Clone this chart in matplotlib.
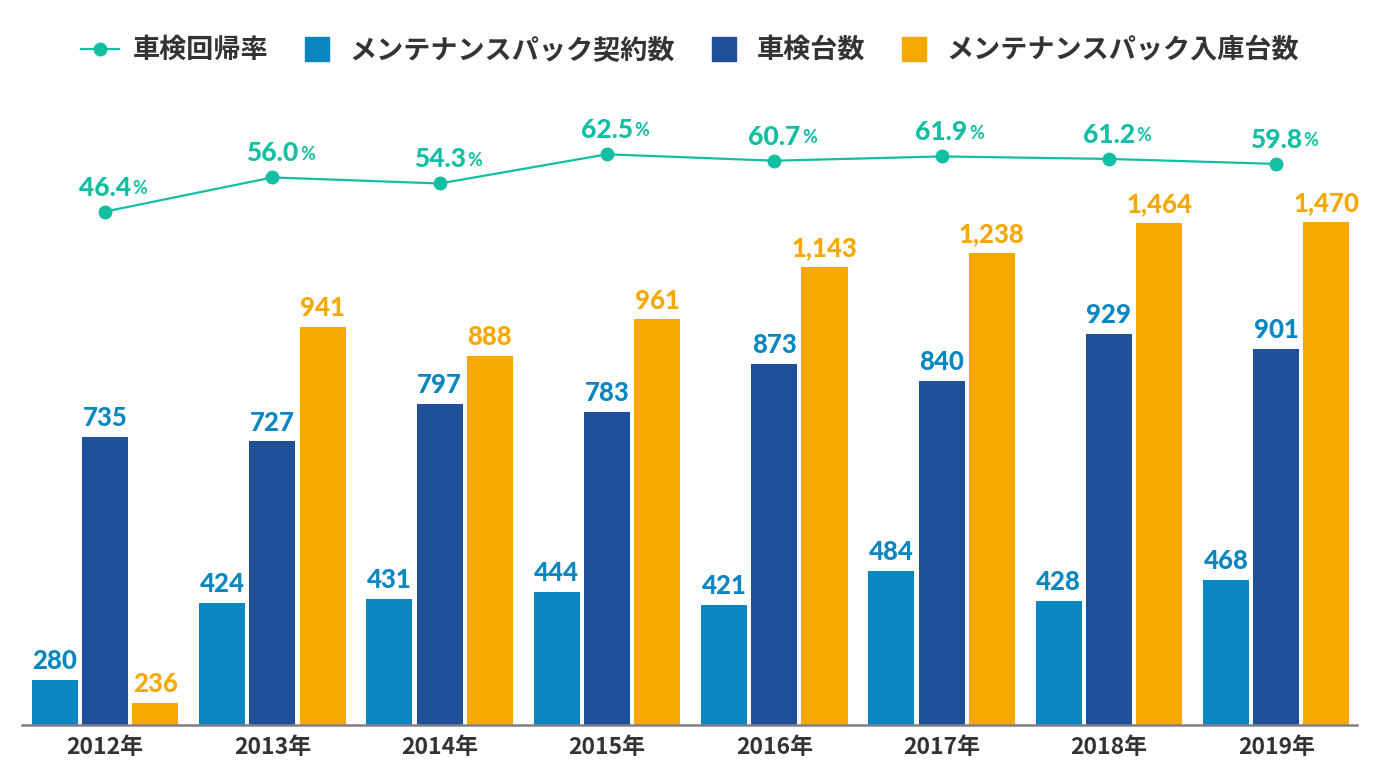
import numpy as np
import matplotlib.pyplot as plt
from matplotlib.lines import Line2D

plt.rcParams['font.family'] = ['Noto Sans CJK JP', 'DejaVu Sans']

anios = ['2012年', '2013年', '2014年', '2015年', '2016年', '2017年', '2018年', '2019年']
contratos = [280, 424, 431, 444, 421, 484, 428, 468]
shaken = [735, 727, 797, 783, 873, 840, 929, 901]
ingresos = [236, 941, 888, 961, 1143, 1238, 1464, 1470]
tasa = [46.4, 56.0, 54.3, 62.5, 60.7, 61.9, 61.2, 59.8]

c_celeste = '#0A87C0'
c_azul = '#1F4F98'
c_naranja = '#F7A800'
c_verde = '#12BFA3'
c_texto = '#333333'

# the original chart squeezes the tall bars, so the top of the scale is compressed
quiebres_v = [0, 950, 1150, 5000]
quiebres_f = [0, 950, 1058, 1058 + 3850 * 0.25]


def adelante(v):
    return np.interp(v, quiebres_v, quiebres_f)


def atras(f):
    return np.interp(f, quiebres_f, quiebres_v)


fig = plt.figure(figsize=(13.8, 7.76), dpi=100)
ax = fig.add_axes([0.016, 0.0657, 0.967, 0.818])

x = np.arange(len(anios))
ancho = 0.275
paso = 0.3

series = [(contratos, c_celeste, -paso, c_celeste),
          (shaken, c_azul, 0, c_celeste),
          (ingresos, c_naranja, paso, c_naranja)]
for valores, color, desp, color_txt in series:
    barras = ax.bar(x + desp, valores, width=ancho, color=color, zorder=2)
    ax.bar_label(barras, labels=[f'{v:,}' for v in valores], padding=5,
                 color=color_txt, fontsize=18.5, fontweight='black', family='Lato')

ax.set_yscale('function', functions=(adelante, atras))
ax.set_ylim(195, 2462)
ax.set_xlim(-0.496, 7.48)
ax.set_yticks([])
ax.set_xticks(x)
ax.set_xticklabels(anios, fontsize=16.5, fontweight='bold', color=c_texto)
ax.tick_params(axis='x', length=0, pad=8)
for lado in ['top', 'right', 'left']:
    ax.spines[lado].set_visible(False)
ax.spines['bottom'].set_color('#7F7F86')
ax.spines['bottom'].set_linewidth(1.8)

ax2 = ax.twinx()
ax2.plot(x, tasa, color=c_verde, lw=1.6, marker='o', markersize=9, zorder=3)
ax2.set_ylim(-97.9, 80.5)
ax2.set_yticks([])
for lado in ['top', 'right', 'left', 'bottom']:
    ax2.spines[lado].set_visible(False)

for xi, t in zip(x, tasa):
    txt = ax2.annotate(f'{t:.1f}', xy=(xi, t), xytext=(0, 11.5), textcoords='offset points',
                       ha='center', va='baseline', color=c_verde, fontsize=19,
                       fontweight='black', family='Lato')
    ax2.annotate('%', xy=(1, 0.12), xycoords=txt, xytext=(1, 0), textcoords='offset points',
                 ha='left', va='bottom', color=c_verde, fontsize=13,
                 fontweight='bold', family='Lato')

manejadores = [
    Line2D([0], [0], color=c_verde, lw=1.6, marker='o', markersize=9),
    Line2D([0], [0], color=c_celeste, marker='s', markersize=17, linestyle='none'),
    Line2D([0], [0], color=c_azul, marker='s', markersize=17, linestyle='none'),
    Line2D([0], [0], color=c_naranja, marker='s', markersize=17, linestyle='none'),
]
nombres = ['車検回帰率', 'メンテナンスパック契約数', '車検台数', 'メンテナンスパック入庫台数']
leg = fig.legend(manejadores, nombres, loc='upper center', bbox_to_anchor=(0.5, 0.985),
                 ncol=4, frameon=False, handlelength=1.4, handletextpad=0.5,
                 columnspacing=1.1,
                 prop={'family': ['Noto Sans CJK JP'], 'weight': 'bold', 'size': 19.5})
for t in leg.get_texts():
    t.set_color(c_texto)

plt.savefig('out.png', dpi=100)
